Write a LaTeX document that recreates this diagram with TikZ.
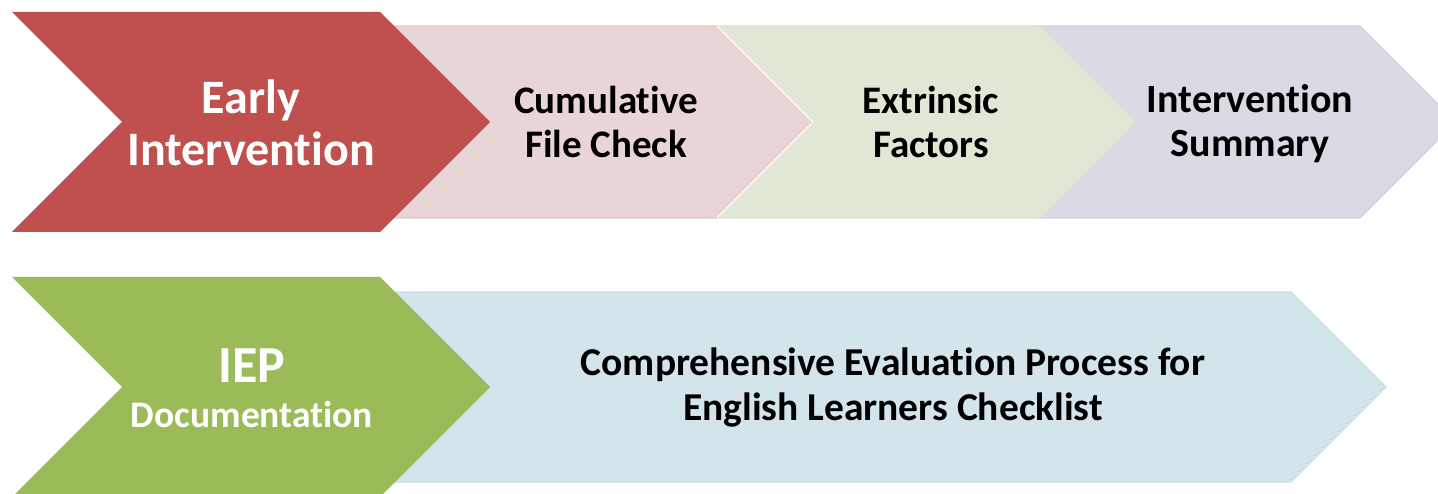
\documentclass[tikz,border=0pt]{standalone}
\usepackage{fontspec}
\setmainfont{Carlito}[Ligatures=NoCommon]
\definecolor{redC}{HTML}{C0504D}
\definecolor{pinkC}{HTML}{E9D5D5}
\definecolor{pinkE}{HTML}{E4C9CA}
\definecolor{lgreenC}{HTML}{E0E8D5}
\definecolor{lgreenE}{HTML}{D9E4CB}
\definecolor{purpC}{HTML}{DCD8E4}
\definecolor{purpE}{HTML}{D5D0E0}
\definecolor{greenC}{HTML}{9BBB59}
\definecolor{blueC}{HTML}{D3E4EB}
\definecolor{blueE}{HTML}{CCE0E8}
\tikzset{
  lightchev/.style={draw=#1, line width=1.2pt, line join=miter},
  whiteedge/.style={draw=white, line width=1.2pt},
  darktext/.style={text=black, font=\bfseries\fontsize{39}{44}\selectfont, align=center, inner sep=0pt},
  whitetext/.style={text=white, font=\bfseries\fontsize{48}{52}\selectfont, align=center, inner sep=0pt}
}
\begin{document}
\begin{tikzpicture}[x=1pt,y=-1pt]
\useasboundingbox (0,0) rectangle (1438,494);
% top row, back to front
\filldraw[fill=purpC, lightchev=purpE] (1040,26) -- (1360,26) -- (1456,122) -- (1360,218) -- (1040,218) -- (1136,122) -- cycle;
\filldraw[fill=lgreenC, lightchev=lgreenE] (717,26) -- (1040,26) -- (1136,122) -- (1040,218) -- (717,218) -- (813,122) -- cycle;
\filldraw[fill=pinkC, lightchev=pinkE] (393,26) -- (717,26) -- (813,122) -- (717,218) -- (393,218) -- (489,122) -- cycle;
\draw[whiteedge] (717,26) -- (813,122) -- (717,218);
\fill[redC] (12,12) -- (380,12) -- (490,122) -- (380,232) -- (12,232) -- (122,122) -- cycle;
% bottom row
\filldraw[fill=blueC, lightchev=blueE] (395,292) -- (1291,292) -- (1386,387) -- (1291,482) -- (395,482) -- (490,387) -- cycle;
\fill[greenC] (12,277) -- (380,277) -- (490,387) -- (380,497) -- (12,497) -- (122,387) -- cycle;
% texts
\node[whitetext] (early) at (251,123) {Early\\Intervention};
\node[darktext] (cum) at (606,122) {Cumulative\\File Check};
\node[darktext] (ext) at (931,122) {Extrinsic\\Factors};
\node[darktext, font=\bfseries\fontsize{40}{44}\selectfont] (sum) at (1250,124) {Intervention\\Summary};
\node[text=white, inner sep=0pt, anchor=base, font=\bfseries\fontsize{52}{58}\selectfont] (iep) at (252,382) {IEP};
\node[text=white, inner sep=0pt, anchor=base, font=\bfseries\fontsize{37.5}{42}\selectfont] (doc) at (252,427) {Documentation};
\node[darktext, font=\bfseries\fontsize{39.5}{45}\selectfont] (cep) at (893,387)
  {Comprehensive Evaluation Process for\\English Learners Checklist};
\end{tikzpicture}
\end{document}
